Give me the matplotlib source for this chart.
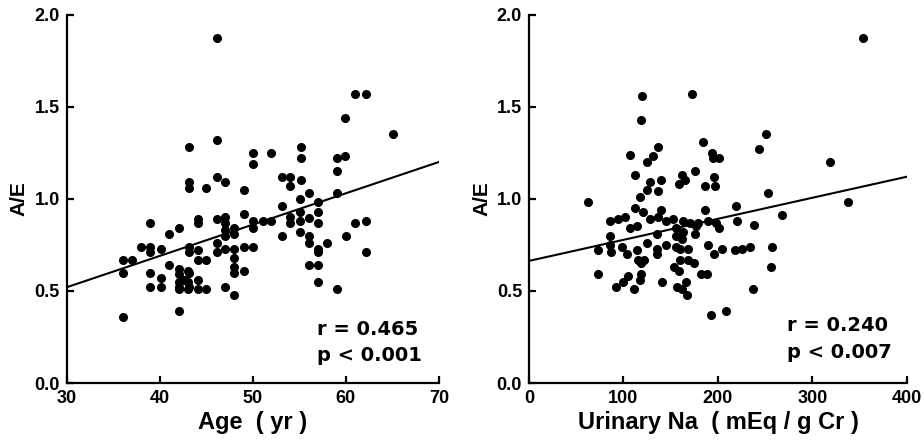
import matplotlib
matplotlib.use("Agg")
import matplotlib.pyplot as plt

plt.rcParams['font.family'] = ['Liberation Sans', 'DejaVu Sans']
plt.rcParams['font.weight'] = 'bold'

# left panel: age vs A/E
age = [46.1, 61.0, 62.2, 59.9, 65.1, 46.1, 43.1, 55.2, 50.0, 52.0,
       50.0, 59.9, 59.0, 55.2, 59.0, 43.1, 43.1, 45.0, 46.1, 47.0,
       53.1, 54.0, 54.0, 55.2, 49.0, 59.0, 56.0, 55.1, 49.0, 53.1,
       57.0, 57.0, 55.1, 54.0, 56.0, 50.0, 51.1, 52.0, 54.0, 55.1,
       57.0, 50.0, 44.1, 44.1, 46.1, 47.0, 47.0, 47.0, 47.0, 48.0,
       48.0, 61.0, 62.2, 60.0, 62.2, 53.1, 55.1, 56.0, 56.0, 58.0,
       57.0, 57.0, 56.0, 57.0, 57.0, 59.0, 39.0, 41.0, 42.1, 38.0,
       39.0, 39.0, 40.1, 43.1, 43.1, 44.1, 44.1, 45.0, 46.1, 46.1,
       47.0, 48.0, 48.0, 49.0, 50.0, 36.0, 37.0, 36.0, 39.0, 40.1,
       41.0, 42.1, 42.1, 43.1, 42.1, 42.6, 43.1, 44.1, 44.1, 45.0,
       39.0, 40.1, 47.0, 48.0, 48.0, 48.0, 49.0, 36.0, 42.1, 43.0,
       42.1, 43.0, 42.1, 43.0]
ae_age = [1.87, 1.57, 1.57, 1.44, 1.35, 1.32, 1.28, 1.28, 1.25, 1.25,
          1.19, 1.23, 1.22, 1.22, 1.15, 1.09, 1.06, 1.06, 1.12, 1.09,
          1.12, 1.12, 1.07, 1.10, 1.05, 1.03, 1.03, 1.00, 0.92, 0.96,
          0.98, 0.93, 0.93, 0.90, 0.895, 0.88, 0.88, 0.88, 0.87, 0.88,
          0.87, 0.84, 0.89, 0.87, 0.89, 0.90, 0.87, 0.83, 0.80, 0.84,
          0.81, 0.87, 0.88, 0.80, 0.71, 0.80, 0.82, 0.80, 0.76, 0.76,
          0.73, 0.71, 0.64, 0.64, 0.55, 0.51, 0.87, 0.81, 0.84, 0.74,
          0.74, 0.71, 0.73, 0.74, 0.71, 0.72, 0.67, 0.67, 0.76, 0.71,
          0.73, 0.73, 0.68, 0.74, 0.74, 0.67, 0.67, 0.60, 0.60, 0.57,
          0.64, 0.62, 0.59, 0.60, 0.52, 0.56, 0.52, 0.56, 0.51, 0.51,
          0.52, 0.52, 0.52, 0.48, 0.63, 0.60, 0.61, 0.36, 0.39, 0.61,
          0.55, 0.55, 0.51, 0.51]
age_fit_x = [30, 70]
age_fit_y = [0.52, 1.20]
age_stats = ['r = 0.465', 'p < 0.001']

# right panel: urinary Na vs A/E
na = [353, 172, 120, 119, 251, 243, 184, 194, 195, 201,
      107, 136, 131, 125, 318, 112, 162, 165, 159, 176,
      186, 196, 197, 140, 128, 125, 136, 117, 253, 62,
      338, 219, 112, 121, 186, 140, 268, 86, 94, 102,
      128, 136, 145, 152, 163, 170, 179, 189, 198, 220,
      238, 201, 107, 114, 156, 177, 86, 86, 135, 163,
      156, 176, 162, 73, 98, 87, 104, 114, 125, 135,
      135, 145, 156, 160, 168, 189, 196, 204, 218, 225,
      234, 257, 115, 119, 122, 160, 168, 175, 73, 105,
      118, 117, 153, 159, 182, 188, 256, 92, 99, 111,
      141, 157, 162, 166, 167, 237, 193, 208]
ae_na = [1.87, 1.57, 1.56, 1.43, 1.35, 1.27, 1.31, 1.25, 1.22, 1.22,
         1.24, 1.28, 1.23, 1.20, 1.20, 1.13, 1.13, 1.10, 1.08, 1.15,
         1.07, 1.12, 1.07, 1.10, 1.09, 1.05, 1.04, 1.01, 1.03, 0.98,
         0.98, 0.96, 0.95, 0.93, 0.94, 0.94, 0.91, 0.88, 0.89, 0.90,
         0.89, 0.90, 0.88, 0.89, 0.88, 0.87, 0.87, 0.88, 0.87, 0.88,
         0.86, 0.84, 0.84, 0.85, 0.84, 0.85, 0.80, 0.75, 0.81, 0.82,
         0.80, 0.81, 0.78, 0.72, 0.74, 0.71, 0.70, 0.72, 0.76, 0.73,
         0.70, 0.75, 0.74, 0.73, 0.73, 0.75, 0.70, 0.73, 0.72, 0.73,
         0.74, 0.74, 0.67, 0.65, 0.67, 0.67, 0.67, 0.65, 0.59, 0.58,
         0.59, 0.56, 0.63, 0.61, 0.59, 0.59, 0.63, 0.52, 0.55, 0.51,
         0.55, 0.52, 0.51, 0.55, 0.48, 0.51, 0.37, 0.39]
na_fit_x = [0, 400]
na_fit_y = [0.663, 1.12]
na_stats = ['r = 0.240', 'p < 0.007']

fig = plt.figure(figsize=(9.24, 4.47), dpi=100)
ax1 = fig.add_axes([0.0722, 0.143, 0.4029, 0.8245])
ax2 = fig.add_axes([0.5725, 0.143, 0.4091, 0.8245])


def style(ax, xlim, xticks, xlabel):
    ax.set_xlim(*xlim)
    ax.set_ylim(0, 2.0)
    ax.set_xticks(xticks)
    ax.set_yticks([0, 0.5, 1.0, 1.5, 2.0])
    ax.set_yticklabels(['0.0', '0.5', '1.0', '1.5', '2.0'])
    for s in ['top', 'right']:
        ax.spines[s].set_visible(False)
    for s in ['left', 'bottom']:
        ax.spines[s].set_linewidth(1.6)
    ax.tick_params(direction='in', length=5, width=1.6, labelsize=13, pad=5)
    for lab in ax.get_xticklabels() + ax.get_yticklabels():
        lab.set_fontweight('bold')
    ax.set_xlabel(xlabel, fontsize=17, fontweight='bold', labelpad=3)
    ax.set_ylabel('A/E', fontsize=15, fontweight='bold', labelpad=4)


def stats(ax, x, ys, lines):
    for y, s in zip(ys, lines):
        ax.text(x, y, s, fontsize=14, fontweight='bold', family='DejaVu Sans',
                va='baseline', ha='left')


ax1.plot(age, ae_age, 'o', color='black', markersize=5.5, clip_on=False)
ax1.plot(age_fit_x, age_fit_y, '-', color='black', linewidth=1.5)
style(ax1, (30, 70), [30, 40, 50, 60, 70], 'Age  ( yr )')
stats(ax1, 56.9, [0.26, 0.121], age_stats)

ax2.plot(na, ae_na, 'o', color='black', markersize=5.5, clip_on=False)
ax2.plot(na_fit_x, na_fit_y, '-', color='black', linewidth=1.5)
style(ax2, (0, 400), [0, 100, 200, 300, 400], 'Urinary Na  ( mEq / g Cr )')
stats(ax2, 272.7, [0.28, 0.135], na_stats)

fig.savefig('out.png', dpi=100)
